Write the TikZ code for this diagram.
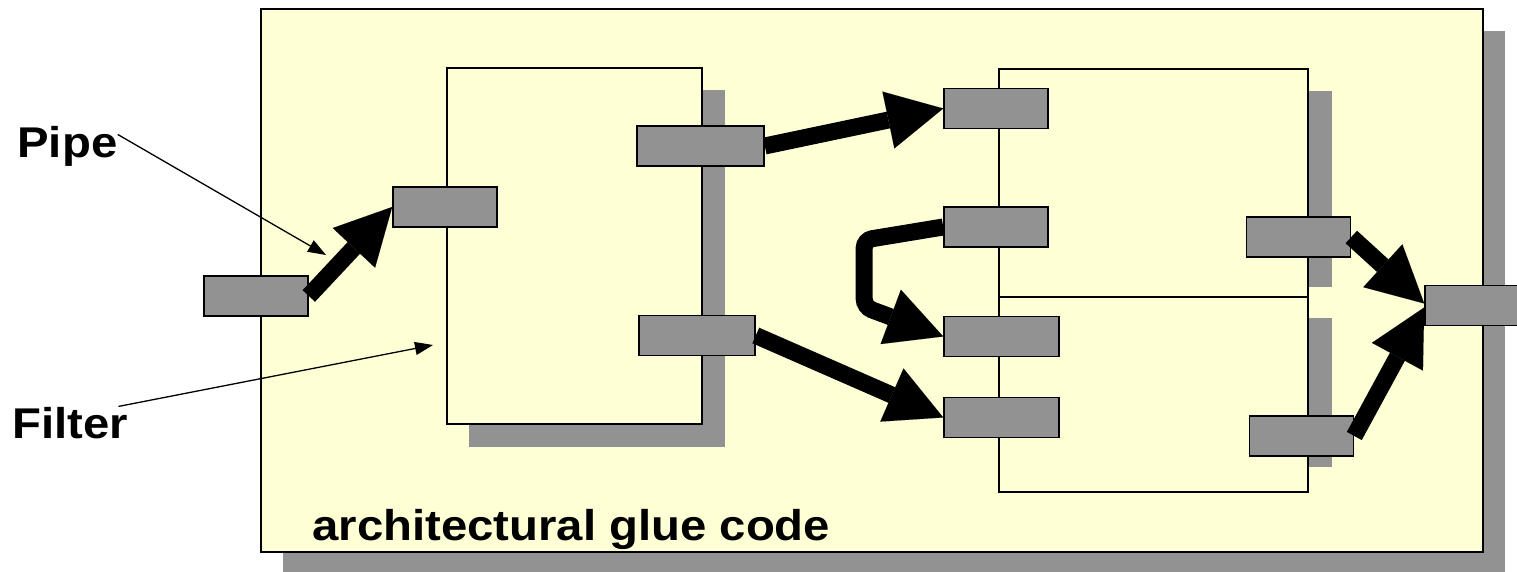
\documentclass[tikz,border=0pt]{standalone}
\usepackage{fontspec}
\setmainfont{Liberation Sans}[FakeStretch=1.1]
\usetikzlibrary{arrows.meta,positioning,calc}
\definecolor{GluePale}{HTML}{FFFFD5}
\definecolor{PortGray}{HTML}{929292}
\definecolor{ShadeGray}{HTML}{929292}

\begin{document}
\begin{tikzpicture}[x=0.5pt,y=-0.5pt,
  gluebox/.style={draw=black,fill=GluePale,line width=1pt,inner sep=0pt},
  filterbox/.style={draw=black,fill=GluePale,line width=0.7pt,inner sep=0pt},
  port/.style={draw=black,fill=PortGray,line width=0.8pt,inner sep=0pt,minimum width=52pt,minimum height=20pt},
  shade/.style={fill=ShadeGray},
  lbl/.style={inner sep=0pt,font=\fontsize{21.5}{25}\selectfont\bfseries},
  pipe/.style={draw=black,line width=8.5pt,-{Triangle[length=28pt,width=29pt,line width=0.01pt]}},
  callout/.style={draw=black,line width=0.65pt,-{Triangle[length=9pt,width=6.5pt]}}
]
  \useasboundingbox (0,0) rectangle (1517,572);
  % glue code area
  \fill[shade] (283,31) rectangle (1505,580);
  \node[gluebox,minimum width=611pt,minimum height=271.5pt] (glue) at (872,280.5) {};
  % filters
  \fill[shade] (469,90) rectangle (725,447);
  \fill[shade] (1308,91) rectangle (1332,287);
  \fill[shade] (1308,318) rectangle (1332,467);
  \node[filterbox,minimum width=127.5pt,minimum height=178pt] (filterA) at (574.5,246) {};
  \node[filterbox,minimum width=154.5pt,minimum height=114pt] (filterB) at (1153.5,183) {};
  \node[filterbox,minimum width=154.5pt,minimum height=97.5pt] (filterC) at (1153.5,394.5) {};
  % ports
  \node[port] (inA) at (256,296) {};
  \node[port] (fAin) at (445,207) {};
  \node[port,minimum width=63.5pt] (fAoutA) at (700.5,146) {};
  \node[port,minimum width=58pt] (fAoutB) at (697,335.5) {};
  \node[port] (fBinA) at (996,108.5) {};
  \node[port] (fBinB) at (996,227) {};
  \node[port] (fBout) at (1298.5,237) {};
  \node[port,minimum width=57.5pt] (fCinA) at (1001.5,336.5) {};
  \node[port,minimum width=57.5pt] (fCinB) at (1001.5,417.5) {};
  \node[port] (fCout) at (1301.5,436) {};
  \node[port] (outR) at (1477,305.5) {};
  % pipes
  \draw[pipe] (inA.east) -- (fAin.west);
  \draw[pipe] (fAoutA.east) -- (fBinA.west);
  \draw[pipe,rounded corners=4pt] (fBinB.west) -- ++(-79,13) -- ++(0,67) -- (fCinA.west);
  \draw[pipe] (fAoutB.east) -- (fCinB.west);
  \draw[pipe] (fBout.east) -- ([yshift=1pt]outR.west);
  \draw[pipe] (fCout.east) -- ([yshift=-1pt]outR.west);
  % labels
  \node[lbl,anchor=base west] (pipelbl) at (17,158) {Pipe};
  \node[lbl,anchor=base west] (filterlbl) at (12,438) {Filter};
  \node[lbl,anchor=base west] (gluelbl) at (312,540) {architectural glue code};
  \coordinate (pipetip) at (326,255);
  \coordinate (filtertip) at (433,345);
  \draw[callout] ([yshift=-4pt]pipelbl.north east) -- (pipetip);
  \draw[callout] ([xshift=-5pt]filterlbl.north east) -- (filtertip);
\end{tikzpicture}
\end{document}
